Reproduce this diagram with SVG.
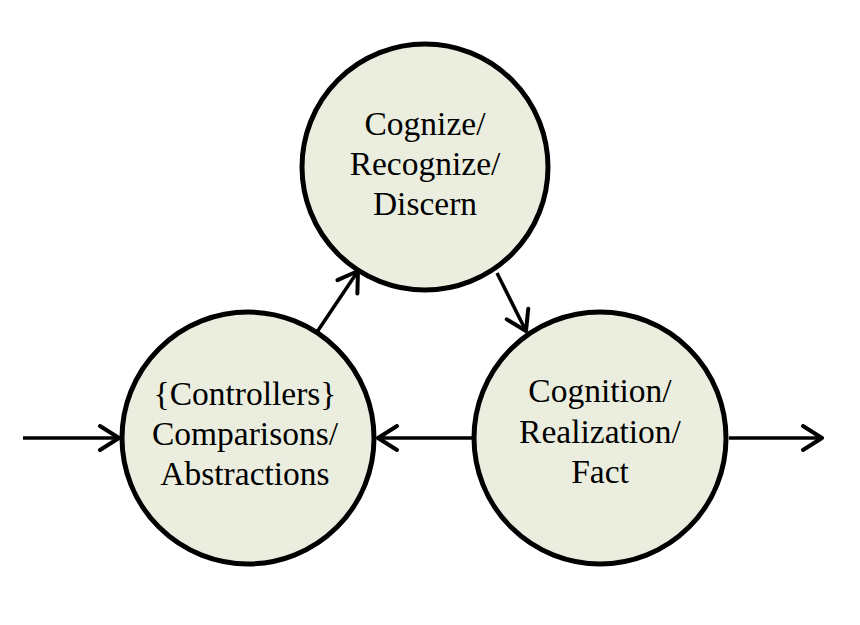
<svg xmlns="http://www.w3.org/2000/svg" width="860" height="625" viewBox="0 0 860 625">
<style>
.node{fill:#EBEEDE;stroke:#000;stroke-width:5}
.lbl{font-family:"Liberation Serif",serif;font-size:33.5px;fill:#000;text-anchor:middle}
.conn{stroke:#000;stroke-width:3.5;fill:none}
</style>
<defs>
<marker id="arr" viewBox="-24 -15 26 30" refX="0" refY="0" markerWidth="26" markerHeight="30" markerUnits="userSpaceOnUse" orient="auto">
<path d="M-19,-12 L0,0 L-19,12" fill="none" stroke="#000" stroke-width="4" stroke-linecap="round" stroke-linejoin="round"/>
</marker>
</defs>
<rect width="860" height="625" fill="#fff"/>
<g id="connectors">
<line class="conn" x1="23" y1="438" x2="119" y2="438" marker-end="url(#arr)"/>
<line class="conn" x1="729" y1="438" x2="822" y2="438" marker-end="url(#arr)"/>
<line class="conn" x1="473" y1="438" x2="378" y2="438" marker-end="url(#arr)"/>
<line class="conn" x1="317" y1="332" x2="358" y2="271" marker-end="url(#arr)"/>
<line class="conn" x1="497" y1="273" x2="526" y2="331" marker-end="url(#arr)"/>
</g>
<g id="node-top">
<circle class="node" cx="425" cy="167" r="123"/>
<text class="lbl" x="425" y="135">Cognize/</text>
<text class="lbl" x="425" y="175">Recognize/</text>
<text class="lbl" x="425" y="215">Discern</text>
</g>
<g id="node-left">
<circle class="node" cx="248" cy="438" r="126"/>
<text class="lbl" x="245" y="405">{Controllers}</text>
<text class="lbl" x="245" y="445">Comparisons/</text>
<text class="lbl" x="245" y="485">Abstractions</text>
</g>
<g id="node-right">
<circle class="node" cx="600" cy="438" r="126"/>
<text class="lbl" x="600" y="402">Cognition/</text>
<text class="lbl" x="600" y="443">Realization/</text>
<text class="lbl" x="600" y="483">Fact</text>
</g>
</svg>
